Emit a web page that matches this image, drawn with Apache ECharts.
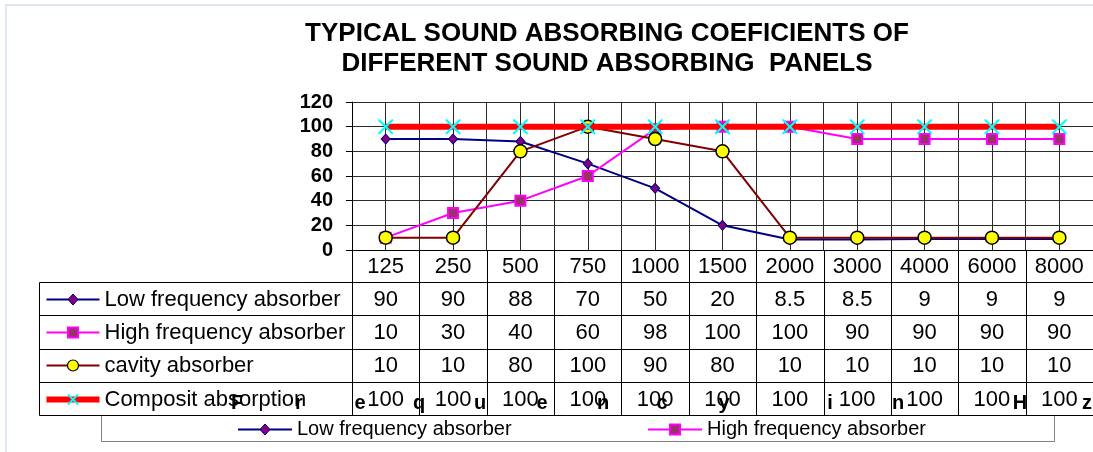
<!DOCTYPE html>
<html><head><meta charset="utf-8">
<script src="https://cdn.jsdelivr.net/npm/echarts/dist/echarts.min.js"></script>
<style>html,body{margin:0;padding:0;background:#fff}#c{width:1093px;height:452px}</style>
</head><body><div id="c"></div>
<script>
// ---------- data ----------
const categories = ['125','250','500','750','1000','1500','2000','3000','4000','6000','8000'];
const lowFreq    = [90, 90, 88, 70, 50, 20, 8.5, 8.5, 9, 9, 9];
const highFreq   = [10, 30, 40, 60, 98, 100, 100, 90, 90, 90, 90];
const cavity     = [10, 10, 80, 100, 90, 80, 10, 10, 10, 10, 10];
const composite  = [100, 100, 100, 100, 100, 100, 100, 100, 100, 100, 100];
const seriesNames = ['Low frequency absorber','High frequency absorber','cavity absorber','Composit absorption'];
const legendNames = ['Low frequency absorber','High frequency absorber'];
const titleLines = ['TYPICAL SOUND ABSORBING COEFICIENTS OF','DIFFERENT SOUND ABSORBING  PANELS'];
const axisTitleLetters = ['F','r','e','q','u','e','n','c','y','i','n','H','z'];

// ---------- layout / style ----------
const FONT = '"Liberation Sans", Arial, sans-serif';
const letterX = [237,299,360,419,480,542,603,662,724,830,898,1020,1087];
const TABLE_LEFT = 38.5, HEADER_H = 32, ROW_H = 33.3;
const XMARK = 'path://M0,0L2,0L10,8L18,0L20,0L20,2L12,10L20,18L20,20L18,20L10,12L2,20L0,20L0,18L8,10L0,2Z';

const styles = [
  {line:'#000080', lw:2, symbol:'diamond', size:[9,10], fill:'#800080', border:'#000080', bw:1},
  {line:'#FF00FF', lw:2, symbol:'rect', size:10, fill:'#993366', border:'#FF00FF', bw:2},
  {line:'#800000', lw:2, symbol:'circle', size:13, fill:'#FFFF00', border:'#000000', bw:1.5},
  {line:'#FF0000', lw:6, symbol:XMARK, size:15, fill:'#00FFFF', border:'#00FFFF', bw:0}
];
const dataSets = [lowFreq, highFreq, cavity, composite];

const option = {
  animation:false,
  backgroundColor:'#fff',
  grid:{left:352, top:102, width:745, height:148, containLabel:false},
  xAxis:[
    {type:'category', data:categories, boundaryGap:true,
     axisLine:{show:true, lineStyle:{color:'#000', width:1}},
     axisTick:{show:false}, axisLabel:{show:false}, splitLine:{show:false}},
    {type:'value', min:0, max:22, interval:1, position:'top',
     axisLine:{show:false}, axisTick:{show:false}, axisLabel:{show:false},
     splitLine:{show:true, lineStyle:{color:'#2a2a2a', width:1}}}
  ],
  yAxis:{type:'value', min:0, max:120, interval:20,
    axisLine:{show:true, lineStyle:{color:'#000'}},
    axisTick:{show:true, inside:false, length:6, lineStyle:{color:'#000'}},
    axisLabel:{color:'#000', fontSize:20, fontWeight:'bold', fontFamily:FONT, margin:19},
    splitLine:{show:true, lineStyle:{color:'#2a2a2a', width:1}}},
  series: dataSets.map((d,i)=>({
    name:seriesNames[i], type:'line', data:d, xAxisIndex:0, yAxisIndex:0, z:2+i,
    symbol:styles[i].symbol, symbolSize:styles[i].size, showAllSymbol:true,
    lineStyle:{color:styles[i].line, width:styles[i].lw},
    itemStyle:{color:styles[i].fill, borderColor:styles[i].border, borderWidth:styles[i].bw},
    emphasis:{disabled:true}
  }))
};

const chart = echarts.init(document.getElementById('c'));
chart.setOption(option);

// ---------- table, legend, titles (positions derived from axes) ----------
const cx = categories.map(c => chart.convertToPixel({xAxisIndex:0}, c));
const colW = cx[1] - cx[0];
const plotLeft = cx[0] - colW/2;
const plotRight = cx[cx.length-1] + colW/2;
const plotBottom = chart.convertToPixel({yAxisIndex:0}, 0);
const px = v => Math.round(v) + 0.5;

const g = [];
const line = (x1,y1,x2,y2,stroke,w) => g.push({type:'line', silent:true, z:100,
  shape:{x1,y1,x2,y2}, style:{stroke:stroke||'#000', lineWidth:w||1}});
const text = (x,y,t,size,weight,align) => g.push({type:'text', silent:true, z:101, x, y,
  style:{text:t, fontSize:size, fontWeight:weight||'normal', fontFamily:FONT, fill:'#000',
         align:align||'center', verticalAlign:'middle'}});

// frame (screenshot border)
g.push({type:'rect', silent:true, shape:{x:5, y:4, width:2, height:448}, style:{fill:'#dfe6f4'}});
g.push({type:'rect', silent:true, shape:{x:5, y:4, width:1088, height:2}, style:{fill:'#dfe6f4'}});

// title
titleLines.forEach((t,i)=> text(607, 34 + i*30, t, 26, 'bold'));

// table geometry
const headerTop = plotBottom, rowTop = headerTop + HEADER_H;
const rowsBottom = rowTop + ROW_H*4;
for (let r=0; r<=4; r++) {
  const y = px(rowTop + r*ROW_H);
  line(px(TABLE_LEFT), y, plotRight, y);
}
line(px(TABLE_LEFT), px(rowTop), px(TABLE_LEFT), px(rowsBottom));
for (let k=0; k<=categories.length; k++) {
  const x = px(plotLeft + k*colW);
  line(x, headerTop, x, px(rowsBottom));
}
categories.forEach((c,k)=> text(cx[k], headerTop + HEADER_H/2 + 1, c, 22));
dataSets.forEach((d,r)=>{
  const yc = rowTop + r*ROW_H + ROW_H/2 + 1;
  d.forEach((v,k)=> text(cx[k], yc, String(v), 22));
  text(TABLE_LEFT + 66, yc, seriesNames[r], 22, 'normal', 'left');
});

function legendSymbol(i, x0, x1, yc) {
  const s = styles[i];
  const xm = (x0+x1)/2;
  line(x0, yc, x1, yc, s.line, s.lw);
  if (i===0) {
    const h = 5.5;
    g.push({type:'polygon', silent:true, z:102, shape:{points:[[xm,yc-h],[xm+h-0.5,yc],[xm,yc+h],[xm-h+0.5,yc]]},
      style:{fill:s.fill, stroke:s.border, lineWidth:1}});
  } else if (i===1) {
    g.push({type:'rect', silent:true, z:102, shape:{x:xm-5, y:yc-5, width:10, height:10},
      style:{fill:s.fill, stroke:s.border, lineWidth:2}});
  } else if (i===2) {
    g.push({type:'circle', silent:true, z:102, shape:{cx:xm, cy:yc, r:5.5},
      style:{fill:s.fill, stroke:s.border, lineWidth:1.2}});
  } else {
    const h = 5;
    line(xm-h, yc-h, xm+h, yc+h, '#00FFFF', 2);
    line(xm-h, yc+h, xm+h, yc-h, '#00FFFF', 2);
    g[g.length-1].z = 103; g[g.length-2].z = 103;
  }
}
for (let r=0; r<4; r++) {
  const yc = px(rowTop + r*ROW_H + ROW_H/2);
  legendSymbol(r, TABLE_LEFT + 8, TABLE_LEFT + 61, yc);
}

// axis title letters (overlapping the table, as in source)
axisTitleLetters.forEach((ch,i)=> text(letterX[i], 403, ch, 20, 'bold'));

// bottom legend box
const legTop = px(rowsBottom), legBottom = 441.5;
g.push({type:'rect', silent:true, z:99, shape:{x:101.5, y:legTop, width:953, height:legBottom-legTop},
  style:{fill:'#fff', stroke:'#808080', lineWidth:1}});
const legY = (legTop + legBottom)/2;
legendSymbol(0, 238, 292, Math.round(legY)+0.5);
text(297, legY+1, legendNames[0], 20, 'normal', 'left');
legendSymbol(1, 648, 702, Math.round(legY)+0.5);
text(707, legY+1, legendNames[1], 20, 'normal', 'left');

chart.setOption({graphic:{elements:g}});
</script>
</body></html>
